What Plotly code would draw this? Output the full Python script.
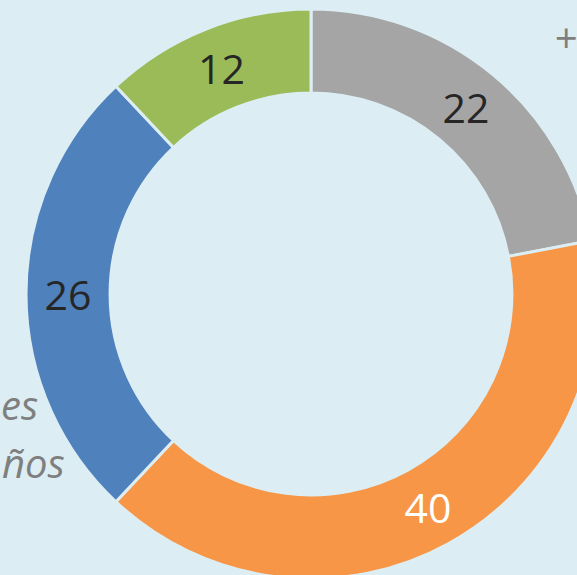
import plotly.graph_objects as go

labels = ["Gris", "Naranja", "Azul", "Verde"]
values = [22, 40, 26, 12]
colors = ["#A5A5A5", "#F79646", "#4F81BD", "#9BBB59"]
text_colors = ["#262626", "#FFFFFF", "#262626", "#262626"]
bg = "#DCEEF3"

W, H = 622, 588
cx, cy, R = 311, 294, 285

fig = go.Figure(go.Pie(
    labels=labels,
    values=values,
    sort=False,
    direction="clockwise",
    rotation=0,
    hole=0.705,
    marker=dict(colors=colors, line=dict(color=bg, width=3)),
    texttemplate="%{value}",
    textposition="inside",
    insidetextorientation="horizontal",
    textfont=dict(family="Open Sans", size=41, color=text_colors),
    showlegend=False,
    domain=dict(x=[(cx - R) / W, (cx + R) / W], y=[1 - (cy + R) / H, 1 - (cy - R) / H]),
))

gray_italic = dict(family="Open Sans", size=40, color="#7F7F7F")
fig.add_annotation(text="<i>+</i>", x=552 / W, y=1 - 37 / H, xref="paper", yref="paper",
                   xanchor="left", yanchor="middle", showarrow=False, font=gray_italic)
fig.add_annotation(text="<i>es</i>", x=40 / W, y=1 - 404 / H, xref="paper", yref="paper",
                   xanchor="right", yanchor="middle", showarrow=False, font=gray_italic)
fig.add_annotation(text="<i>ños</i>", x=67 / W, y=1 - 462 / H, xref="paper", yref="paper",
                   xanchor="right", yanchor="middle", showarrow=False, font=gray_italic)

fig.update_layout(
    width=W, height=H,
    margin=dict(l=0, r=0, t=0, b=0),
    paper_bgcolor=bg, plot_bgcolor=bg,
)
fig.write_html(
    "out.html",
    config={"displayModeBar": False},
    post_script="document.body.style.margin='0px';document.body.style.background='%s';"
                "document.body.style.overflow='hidden';" % bg,
)
